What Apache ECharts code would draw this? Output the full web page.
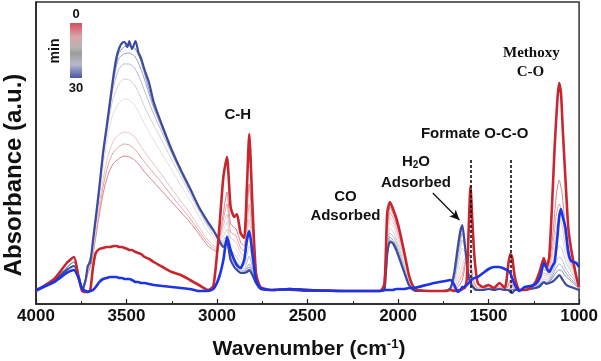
<!DOCTYPE html>
<html><head><meta charset="utf-8">
<script src="https://cdn.jsdelivr.net/npm/echarts@6/dist/echarts.min.js"></script>
<style>html,body{margin:0;padding:0;background:#fff}#c{width:601px;height:361px}</style>
</head><body><div id="c"></div>
<script>
// ---- data (absorbance in arbitrary units) ----
const wavenumbers = [4000,3900,3830,3790,3765,3745,3725,3714,3700,3685,
3670,3650,3630,3610,3590,3570,3555,3540,3525,3510,
3495,3485,3470,3450,3435,3420,3400,3375,3350,3300,
3250,3200,3150,3100,3050,3020,2990,2965,2945,2925,
2905,2890,2870,2850,2835,2822,2805,2785,2760,2700,
2600,2500,2300,2100,2075,2060,2045,2030,2010,1990,
1965,1940,1915,1890,1800,1740,1710,1690,1670,1655,
1645,1632,1620,1610,1600,1590,1578,1560,1530,1500,
1470,1440,1410,1390,1380,1370,1355,1330,1300,1270,
1240,1215,1195,1180,1165,1150,1135,1120,1110,1100,
1090,1075,1060,1045,1030,1015,1000];

const spectrum0min = [13,25,41,47,27,13,12,12,14,37,
51,55,56,57,57,58,58,57,57,56,
55,54,54,52,51,50,47,45,42,37,
32,29,24,19,14,18,70,127,147,97,
87,90,71,66,117,170,101,31,17,14,
15,14,13,13,20,91,102,96,86,72,
51,29,17,14,13,13,14,13,14,14,
15,16,25,74,118,84,47,21,17,19,
16,21,16,41,50,47,27,14,14,16,
22,34,46,37,47,97,157,204,221,211,
174,124,77,56,41,27,17];

const spectrum30min = [13,23,34,38,28,14,25,38,42,64,
86,117,151,177,204,231,247,256,261,262,
257,263,255,263,252,246,234,221,202,177,
154,134,116,97,82,74,64,57,61,44,
37,34,31,31,32,34,29,21,15,14,
14,13,13,13,14,51,62,61,54,44,
31,19,14,13,13,13,16,31,57,74,
79,61,41,27,21,18,15,14,14,15,
14,15,14,14,12,11,14,14,14,15,
16,18,22,20,21,22,24,27,29,27,
24,20,18,17,16,15,14];

const spectrumAfter = [14,22,31,34,26,15,13,12,13,14,
17,22,25,26,27,27,27,26,26,25,
25,25,24,22,22,21,21,20,19,18,
17,16,15,13,13,15,26,44,67,54,
44,39,36,44,64,73,51,24,16,14,
15,14,13,13,14,14,14,14,15,15,
15,16,16,17,21,23,24,19,12,14,
17,17,19,21,23,25,26,27,31,35,
37,37,35,33,31,26,19,13,17,18,
20,27,41,36,32,37,42,67,87,95,
87,76,52,43,42,41,37];

const wavenumbersSeries = [4000,3900,3790,3760,3740,3714,3695,3680,3660,3640,
3620,3600,3575,3545,3515,3485,3455,3425,3400,3350,
3300,3250,3200,3150,3100,3050,3000,2970,2945,2925,
2895,2870,2850,2822,2800,2775,2740,2500,2100,2070,
2045,2020,1995,1965,1935,1905,1800,1720,1690,1665,
1645,1630,1615,1600,1585,1560,1500,1440,1400,1380,
1360,1320,1270,1230,1200,1180,1160,1140,1125,1110,
1095,1080,1065,1050,1035,1015,1000];

const spectrumT1 = [13,24,42,24,14,30,40,55,78,100,118,130,140,145,148,147,144,138,132,122,112,102,92,82,70,58,52,85,112,80,75,62,58,120,65,22,14,14,13,38,97,87,72,48,25,15,13,14,14,18,24,38,55,45,25,16,17,17,16,24,16,14,16,24,35,33,45,80,110,124,112,85,62,48,40,27,18];
const spectrumT2 = [13,24,42,24,14,32,42,58,82,106,126,140,151,157,160,159,155,148,142,131,120,108,97,86,73,61,54,80,100,72,68,56,53,100,57,21,14,14,13,36,92,83,68,46,24,15,13,14,15,22,30,42,48,35,22,15,16,16,15,21,15,14,16,22,31,30,40,66,90,100,92,72,55,44,37,26,17];
const spectrumT3 = [13,24,42,24,14,34,44,61,86,112,134,150,162,169,172,171,167,159,152,140,128,115,103,91,77,64,56,75,90,66,62,51,48,85,50,20,14,14,13,34,87,79,65,44,23,14,13,14,17,27,38,46,42,28,20,15,15,16,15,19,15,14,15,21,29,28,36,57,77,85,79,63,50,41,35,25,17];
const spectrumT4 = [13,24,42,24,14,35,46,64,92,122,150,172,190,200,205,204,199,189,180,164,149,134,119,104,88,72,62,70,82,60,55,46,43,70,44,20,14,14,13,32,82,75,61,41,22,14,13,14,19,34,47,50,38,25,19,14,15,15,15,17,14,14,15,20,27,26,32,48,63,70,66,54,44,37,32,24,16];
const spectrumT5 = [13,24,42,24,14,36,47,66,95,127,157,181,205,219,225,224,219,208,197,179,162,144,127,110,93,77,65,66,75,54,48,41,39,58,38,19,14,14,13,30,76,70,57,38,20,14,13,14,22,42,56,52,36,24,18,14,15,15,14,15,14,14,15,19,25,24,29,41,53,58,55,46,39,34,29,22,16];
const spectrumT6 = [13,24,42,24,14,37,48,68,97,130,161,186,215,234,240,240,236,225,213,190,170,150,131,113,95,79,67,63,69,50,43,37,35,48,33,19,14,14,13,28,71,66,53,36,19,14,13,14,25,49,64,55,36,23,18,14,15,15,14,15,14,14,15,18,23,22,26,35,43,47,45,38,33,29,26,20,15];
const spectrumT7 = [13,24,42,24,14,37,49,69,98,132,163,188,220,245,250,251,248,237,224,196,174,152,133,115,96,80,68,61,65,47,40,34,33,40,30,18,14,14,13,27,67,62,50,34,18,13,13,14,27,55,71,57,35,22,17,14,15,15,14,15,14,14,15,18,22,21,24,31,37,40,38,33,29,26,23,19,15];
const spectrumT8 = [13,24,42,24,14,38,50,70,99,133,164,189,222,250,257,258,256,245,230,199,176,153,134,116,97,81,69,59,63,45,38,32,32,37,28,18,14,14,13,26,64,60,48,32,18,13,13,14,29,59,76,58,35,22,17,14,15,15,14,15,14,14,15,17,21,21,23,28,32,34,33,29,26,24,21,18,15];

const xTicks = [4000,3500,3000,2500,2000,1500,1000];
const formateLines = [1597, 1377];

// ---- chart ----
const FONT = "'Liberation Sans', Arial, sans-serif";
const chart = echarts.init(document.getElementById('c'), null, {renderer:'canvas'});

function lineSeries(name, wn, vals, color, width, z) {
  return {
    type:'line', name, z, silent:true, symbol:'none', showSymbol:false,
    smooth:0.2, animation:false,
    data: wn.map((w,i)=>[w, vals[i]]),
    lineStyle:{color, width}
  };
}

const thin = [
  [spectrumT1,'#d9848c'],[spectrumT2,'#e3a4a9'],[spectrumT3,'#ebc4c6'],
  [spectrumT4,'#e2e0e0'],[spectrumT5,'#d0d0d4'],[spectrumT6,'#b9bbc9'],
  [spectrumT7,'#9fa4c6'],[spectrumT8,'#858dbd']
];
const series = thin.map((t,i)=>lineSeries('t'+i, wavenumbersSeries, t[0], t[1], 1, 2));
series.push(lineSeries('30 min', wavenumbers, spectrum30min, '#3d4b9e', 2.2, 3));
const redS = lineSeries('0 min', wavenumbers, spectrum0min, '#c8262f', 2.6, 4);
redS.markLine = {
  silent:true, symbol:['none','none'], label:{show:false},
  lineStyle:{type:[3,2], color:'#111', width:1.6},
  data: formateLines.map(w=>[{coord:[w,144]},{coord:[w,11]}])
};
series.push(redS);
const blueS = lineSeries('after', wavenumbers, spectrumAfter, '#1c34e6', 2.6, 5);
blueS.markLine = {
  silent:true, symbol:['none','arrow'], symbolSize:[7,10], label:{show:false},
  lineStyle:{type:'solid', color:'#111', width:1.3},
  data: [[{coord:[1808,111]},{coord:[1661,84]}]]
};
series.push(blueS);

chart.setOption({
  animation:false,
  backgroundColor:'#fff',
  grid:{left:36, right:19, top:2, bottom:57, show:true, borderColor:'#333', borderWidth:1.5, backgroundColor:'transparent'},
  xAxis:{
    type:'value', min:1000, max:4000, interval:500, inverse:true,
    axisLine:{onZero:false, lineStyle:{color:'#222', width:1.5}},
    axisTick:{inside:true, length:5, lineStyle:{color:'#222', width:1.2}},
    minorTick:{show:true, splitNumber:2, length:3, lineStyle:{color:'#222', width:1}},
    splitLine:{show:false}, minorSplitLine:{show:false},
    axisLabel:{margin:4, fontSize:17, fontWeight:'bold', color:'#111', fontFamily:FONT,
      showMinLabel:true, showMaxLabel:true,
      formatter:v=> xTicks.includes(v) ? String(v) : ''}
  },
  yAxis:{
    type:'value', min:0, max:302,
    axisLine:{show:true, lineStyle:{color:'#222', width:1.5}},
    axisTick:{show:false}, axisLabel:{show:false}, splitLine:{show:false}
  },
  series
});

// annotations anchored to data coordinates
const annotations = [
  {text:'C-H', at:[2885,189]},
  {text:'CO', at:[2291,107]},
  {text:'Adsorbed', at:[2291,88]},
  {text:'H{sub|2}O', at:[1901,142]},
  {text:'Adsorbed', at:[1901,121]},
  {text:'Formate O-C-O', at:[1577,170]},
  {text:'Methoxy', at:[1264,251], serif:true},
  {text:'C-O', at:[1269,232], serif:true}
];
const graphics = annotations.map(a=>{
  const p = chart.convertToPixel({gridIndex:0}, a.at);
  const fam = a.serif ? "'Liberation Serif', 'Times New Roman', serif" : FONT;
  return {type:'text', x:p[0], y:p[1], z:50, style:{
    text:a.text, align:'center', verticalAlign:'middle', fill:'#111',
    font:'bold 15px ' + fam,
    rich:{sub:{fontSize:10, fontWeight:'bold', fontFamily:fam, verticalAlign:'bottom', fill:'#111', padding:[6,0,0,0]}}
  }};
});
// axis titles
graphics.push({type:'text', x:309, y:349, style:{
  text:'Wavenumber (cm{sup|-1})', align:'center', verticalAlign:'middle', fill:'#111',
  font:'bold 21px ' + FONT,
  rich:{sup:{fontSize:13, fontWeight:'bold', fontFamily:FONT, fill:'#111', verticalAlign:'top', padding:[0,0,10,0]}}
}});
graphics.push({type:'text', x:14, y:175, rotation:Math.PI/2, style:{
  text:'Absorbance (a.u.)', align:'center', verticalAlign:'middle', fill:'#111',
  font:'bold 24px ' + FONT
}});
// time colour bar
graphics.push({type:'rect', shape:{x:70, y:23, width:12, height:55}, z:50, style:{
  fill:new echarts.graphic.LinearGradient(0,0,0,1,[
    {offset:0, color:'#cf4f5c'},{offset:0.25, color:'#dca4a9'},
    {offset:0.45, color:'#b4b4b4'},{offset:0.55, color:'#9c9c9c'},
    {offset:0.75, color:'#b7b9cc'},{offset:1, color:'#4a58a8'}])
}});
graphics.push({type:'text', x:76, y:14, z:50, style:{text:'0', align:'center', verticalAlign:'middle', fill:'#111', font:'bold 13px '+FONT}});
graphics.push({type:'text', x:76, y:88, z:50, style:{text:'30', align:'center', verticalAlign:'middle', fill:'#111', font:'bold 13px '+FONT}});
graphics.push({type:'text', x:55, y:51, z:50, rotation:Math.PI/2, style:{text:'min', align:'center', verticalAlign:'middle', fill:'#111', font:'bold 14px '+FONT}});

chart.setOption({graphic:graphics});
</script>
</body></html>
